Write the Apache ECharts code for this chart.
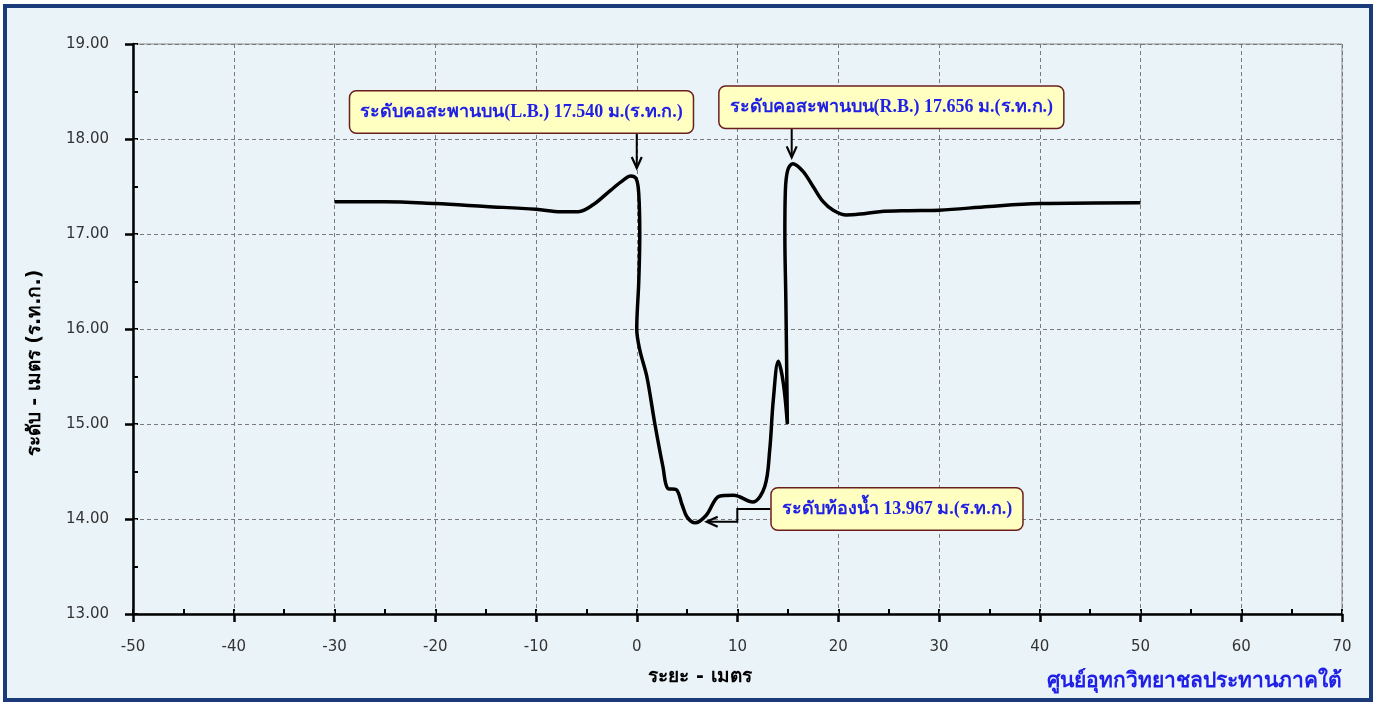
<!DOCTYPE html>
<html>
<head>
<meta charset="utf-8">
<script src="https://cdn.jsdelivr.net/npm/echarts@6/dist/echarts.min.js"></script>
<style>
  html, body { margin:0; padding:0; background:#ffffff; }
  #frame { position:absolute; left:3px; top:4px; width:1370px; height:698px; box-sizing:border-box;
           border:4px solid #1B3A7A; background:#EAF4F8; }
  #chart { position:absolute; left:0; top:0; width:1383px; height:703px; }
</style>
</head>
<body>
<div id="frame"></div>
<div id="chart"></div>
<script>
// ---- data ----
const distance = [-30,-25,-20,-15,-10,-7.5,-5.8,-4.3,-2.6,-1.3,-0.6,-0.05,0.2,0.3,0.2,0.0,0.3,1.0,1.8,2.6,3.1,3.9,4.5,5.0,5.8,6.9,8.2,9.6,11.5,12.7,13.2,13.55,14.05,14.55,14.95,14.8,14.7,14.75,14.98,15.48,16.5,17.5,18.5,19.5,20.8,22.2,24.1,27,30,35,40,50];
const elevation = [17.34,17.34,17.32,17.29,17.26,17.235,17.235,17.31,17.46,17.57,17.61,17.58,17.42,17.0,16.5,16.0,15.78,15.5,15.0,14.55,14.32,14.31,14.15,14.02,13.96,14.04,14.24,14.25,14.18,14.34,14.73,15.25,15.66,15.43,15.0,16.3,17.0,17.45,17.67,17.74,17.66,17.5,17.34,17.25,17.2,17.21,17.235,17.245,17.25,17.29,17.32,17.33];
const xTicks = [-50,-40,-30,-20,-10,0,10,20,30,40,50,60,70];
const yTicks = [13,14,15,16,17,18,19];
const noteTexts = ['ระดับคอสะพานบน(L.B.) 17.540 ม.(ร.ท.ก.)', 'ระดับคอสะพานบน(R.B.) 17.656 ม.(ร.ท.ก.)', 'ระดับท้องน้ำ 13.967 ม.(ร.ท.ก.)'];
const xName = 'ระยะ - เมตร';
const yName = 'ระดับ - เมตร (ร.ท.ก.)';
const footer = 'ศูนย์อุทกวิทยาชลประทานภาคใต้';

// ---- annotation layout (data coordinates) ----
const noteCenters = [[-11.44,18.284],[25.27,18.334],[25.83,14.105]];
const notePaths = [
  [[0,18.063],[0,17.695]],
  [[15.38,18.108],[15.38,17.807]],
  [[13.25,14.105],[9.98,14.105],[9.98,13.972],[6.94,13.972]]
];

const chart = echarts.init(document.getElementById('chart'), null, {renderer:'canvas'});
const labelFont = '"DejaVu Sans", Tahoma, sans-serif';
const gridLine = { show:true, lineStyle:{ color:'#7a7a7a', width:1, type:[4,3] } };

const option = {
  animation:false,
  backgroundColor:'transparent',
  grid:{ left:133, right:41, top:44, bottom:89, show:true, borderColor:'#8a8a8a', borderWidth:1, backgroundColor:'transparent' },
  xAxis:[
    { type:'value', min:xTicks[0], max:xTicks[xTicks.length-1], interval:10,
      axisLine:{ show:true, onZero:false, lineStyle:{ color:'#000', width:2.5 } },
      axisTick:{ show:true, inside:false, length:8, lineStyle:{ color:'#000', width:2.5 } },
      axisLabel:{ margin:26, color:'#333', fontSize:15, fontFamily:labelFont },
      splitLine:gridLine, z:5 },
    { type:'value', min:xTicks[0], max:xTicks[xTicks.length-1], interval:5, position:'bottom',
      axisLine:{ show:false, onZero:false }, axisTick:{ show:true, inside:true, length:5, lineStyle:{ color:'#000', width:2 } },
      axisLabel:{ show:false }, splitLine:{ show:false } }
  ],
  yAxis:[
    { type:'value', min:yTicks[0], max:yTicks[yTicks.length-1], interval:1,
      axisLine:{ show:true, onZero:false, lineStyle:{ color:'#000', width:2.5 } },
      axisTick:{ show:true, inside:false, length:8, lineStyle:{ color:'#000', width:2.5 } },
      axisLabel:{ margin:24, color:'#333', fontSize:15, fontFamily:labelFont, formatter:v=>v.toFixed(2) },
      splitLine:gridLine, z:5 },
    { type:'value', min:yTicks[0], max:yTicks[yTicks.length-1], interval:0.5, position:'left',
      axisLine:{ show:false, onZero:false }, axisTick:{ show:true, inside:true, length:5, lineStyle:{ color:'#000', width:2 } },
      axisLabel:{ show:false }, splitLine:{ show:false } }
  ],
  series:[{
    type:'line', xAxisIndex:0, yAxisIndex:0,
    data: distance.map((x,i)=>[x, elevation[i]]),
    smooth:0.35, showSymbol:false, symbol:'none',
    lineStyle:{ color:'#000', width:3.5 }, z:10
  }]
};
chart.setOption(option);

function buildGraphics(){
  const g = [];
  const toPx = p => chart.convertToPixel({gridIndex:0}, p);
  noteCenters.forEach((c,i)=>{
    const p = toPx(c);
    g.push({ type:'text', z:100, style:{
      text:noteTexts[i], x:p[0], y:p[1], align:'center', verticalAlign:'middle',
      font:'bold 18px "Liberation Serif", "Times New Roman", serif', fill:'#1f1fe6',
      backgroundColor:'#FFFFC2', borderColor:'#6B1E1E', borderWidth:1.5, borderRadius:6,
      padding:[12,10,11,10]
    }});
  });
  notePaths.forEach(path=>{
    const pts = path.map(toPx);
    g.push({ type:'polyline', z:99, shape:{ points:pts }, style:{ stroke:'#000', lineWidth:2, fill:null } });
    const tip = pts[pts.length-1], prev = pts[pts.length-2];
    let dx = tip[0]-prev[0], dy = tip[1]-prev[1];
    const L = Math.hypot(dx,dy); dx/=L; dy/=L;
    const px = -dy, py = dx;
    const a = [tip[0]-11*dx+5*px, tip[1]-11*dy+5*py];
    const b = [tip[0]-11*dx-5*px, tip[1]-11*dy-5*py];
    g.push({ type:'polyline', z:99, shape:{ points:[a, tip, b] }, style:{ stroke:'#000', lineWidth:2.2, fill:null } });
  });
  g.push({ type:'text', z:100, style:{ text:xName, x:700, y:677, align:'center', verticalAlign:'middle',
    font:'bold 19px Tahoma, "DejaVu Sans", sans-serif', fill:'#000' }});
  g.push({ type:'text', z:100, x:35, y:363, rotation:Math.PI/2, style:{ text:yName, x:0, y:0, align:'center', verticalAlign:'middle',
    font:'bold 19px Tahoma, "DejaVu Sans", sans-serif', fill:'#000' }});
  g.push({ type:'text', z:100, style:{ text:footer, x:1342, y:682, align:'right', verticalAlign:'middle',
    font:'bold 21px "Liberation Serif", serif', fill:'#1f1fe6' }});
  chart.setOption({ graphic:g });
}
buildGraphics();
</script>
</body>
</html>
